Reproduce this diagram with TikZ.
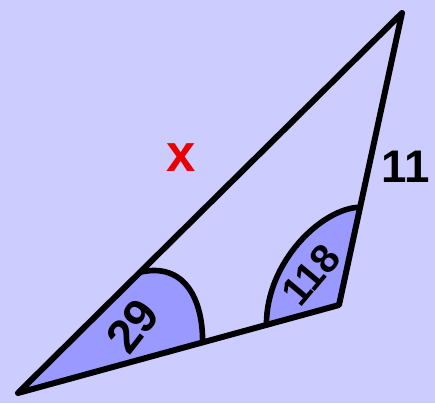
\documentclass[tikz,border=0pt]{standalone}
\usepackage{fontspec}
\setmainfont{Liberation Sans}
\usepackage{xcolor}
\usetikzlibrary{calc}
\definecolor{sfondo}{RGB}{204, 204, 255}
\definecolor{settore}{RGB}{153, 153, 255}
\definecolor{rosso}{RGB}{235, 0, 0}

\begin{document}
\begin{tikzpicture}[x=0.02cm, y=-0.02cm, line join=round, line cap=round]
        \fill[sfondo] (0,0) rectangle (435,403);
        \useasboundingbox (0,0) rectangle (435,403);

        \coordinate (A) at (18, 393);
        \coordinate (B) at (402, 13);
        \coordinate (C) at (339, 305);

        % estremi degli archi sui lati
        \coordinate (p1) at ($(A)!0.318!(B)$);
        \coordinate (p2) at ($(A)!0.575!(C)$);
        \coordinate (q1) at ($(C)!0.335!(B)$);
        \coordinate (q2) at ($(C)!0.226!(A)$);

        % settori colorati
        \fill[settore] (A) -- (p1) .. controls (185,262) and (203,300) .. (p2) -- cycle;
        \fill[settore] (C) -- (q1) .. controls (322,208) and (266,262) .. (q2) -- cycle;

        % triangolo
        \draw[line width=3.4pt] (A) -- (B) -- (C) -- cycle;

        % archi degli angoli
        \draw[line width=3.2pt] (p1) .. controls (185,262) and (203,300) .. (p2);
        \draw[line width=3.2pt] (q1) .. controls (322,208) and (266,262) .. (q2);

        % etichette
        \node[rosso, font=\fontsize{30}{34}\selectfont\bfseries] (lx) at (181, 158) {x};
        \node[font=\fontsize{26}{30}\selectfont\bfseries] (l11) at (406, 167) {11};
        \node[rotate=52, inner sep=0pt, font=\fontsize{27}{30}\selectfont\bfseries] (a29) at (133, 326) {29};
        \node[rotate=50, inner sep=0pt, font=\fontsize{23}{26}\selectfont\bfseries] (a118) at (311, 275) {118};
    \end{tikzpicture}
\end{document}
